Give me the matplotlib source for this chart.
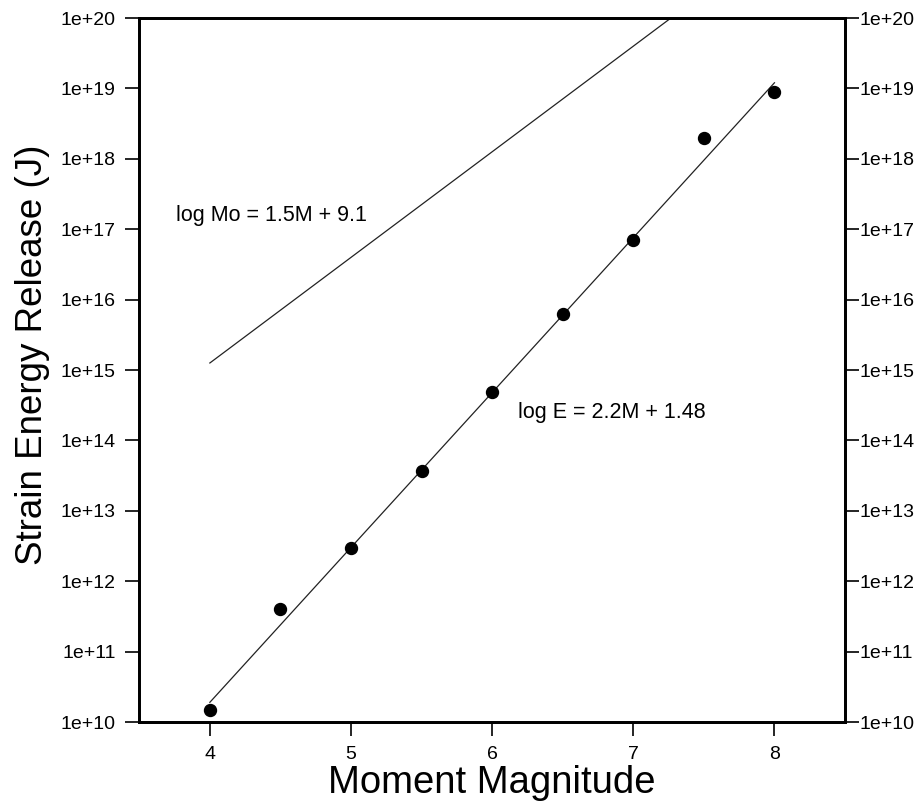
import numpy as np
import matplotlib
matplotlib.use("Agg")
import matplotlib.pyplot as plt
from matplotlib.ticker import FixedLocator, NullLocator

plt.rcParams['font.family'] = ['Liberation Sans', 'DejaVu Sans']

# Data
magnitude = [4.0, 4.5, 5.0, 5.5, 6.0, 6.5, 7.0, 7.5, 8.0]
energy = [1.5e10, 4e11, 3e12, 3.7e13, 4.8e14, 6.3e15, 7e16, 2e18, 9e18]
fit_M = [4.0, 8.0]
E_slope, E_icpt = 2.2, 1.48
Mo_slope, Mo_icpt = 1.5, 9.1
xticks = [4, 5, 6, 7, 8]
yticks = [1e10, 1e11, 1e12, 1e13, 1e14, 1e15, 1e16, 1e17, 1e18, 1e19, 1e20]
ytick_labels = ['1e+10', '1e+11', '1e+12', '1e+13', '1e+14', '1e+15',
                '1e+16', '1e+17', '1e+18', '1e+19', '1e+20']
label_E = 'log E = 2.2M + 1.48'
label_Mo = 'log Mo = 1.5M + 9.1'

fig = plt.figure(figsize=(9.2, 8.08), dpi=100)
ax = fig.add_axes([0.1514, 0.1064, 0.7671, 0.8713])

fitM = np.array(fit_M)
ax.plot(fitM, 10 ** (E_slope * fitM + E_icpt), color='#222222', lw=0.9)
ax.plot(fitM, 10 ** (Mo_slope * fitM + Mo_icpt), color='#222222', lw=0.9)
ax.plot(magnitude, energy, 'o', color='black', ms=8.6, zorder=3)

ax.set_yscale('log')
ax.set_xlim(3.5, 8.5)
ax.set_ylim(1e10, 1e20)
ax.xaxis.set_major_locator(FixedLocator(xticks))
ax.set_xticklabels([str(t) for t in xticks])
ax.yaxis.set_major_locator(FixedLocator(yticks))
ax.yaxis.set_minor_locator(NullLocator())
ax.set_yticklabels(ytick_labels)

for s in ax.spines.values():
    s.set_linewidth(2.0)

ax.tick_params(axis='both', which='major', direction='out', length=10, width=1.2,
               labelsize=14, color='black')
ax.tick_params(axis='y', pad=7)
ax.tick_params(axis='x', pad=7)

ax2 = ax.twinx()
ax2.set_yscale('log')
ax2.set_ylim(1e10, 1e20)
ax2.yaxis.set_major_locator(FixedLocator(yticks))
ax2.yaxis.set_minor_locator(NullLocator())
ax2.set_yticklabels(ytick_labels)
ax2.tick_params(axis='y', direction='out', length=10, width=1.2, labelsize=14, pad=0.5)
for s in ax2.spines.values():
    s.set_linewidth(2.0)

ax.set_xlabel('Moment Magnitude', fontsize=27.5, labelpad=2)
ax.set_ylabel('Strain Energy Release (J)', fontsize=26.5)
ax.yaxis.set_label_coords(-0.127, 0.521)

ax.text(3.758, 10 ** 17.2, label_Mo, fontsize=15.5, va='center', ha='left')
ax.text(6.18, 10 ** 14.4, label_E, fontsize=15.5, va='center', ha='left')

fig.savefig('out.png', dpi=100)
